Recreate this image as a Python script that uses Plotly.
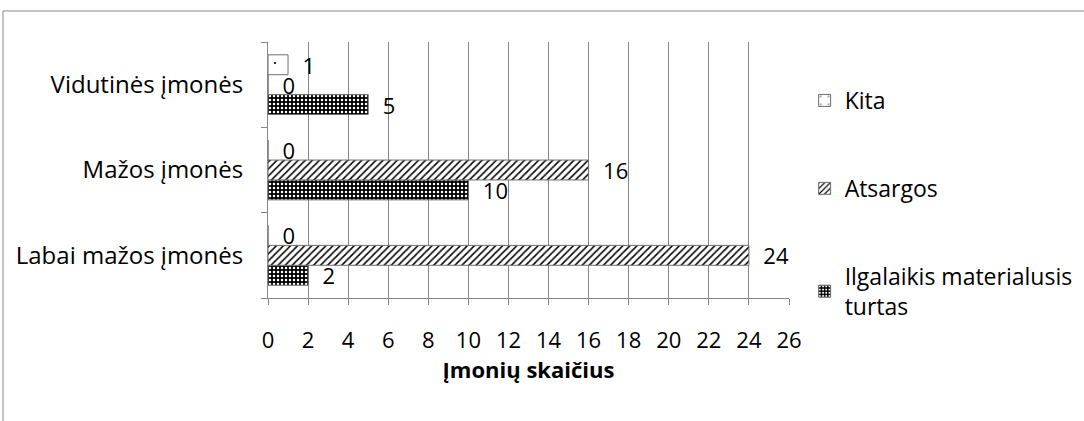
import plotly.graph_objects as go

categories = ["Labai mažos įmonės", "Mažos įmonės", "Vidutinės įmonės"]
series_names = ["Ilgalaikis materialusis<br>turtas", "Atsargos", "Kita"]
ilgalaikis = [2, 10, 5]
atsargos = [24, 16, 0]
kita = [0, 0, 1]
x_ticks = list(range(0, 27, 2))

FONT = "Open Sans"
FS = 22
GRID = "#878787"
OUTLINE = "#6f6f6f"

patterns = [
    dict(shape=".", fgcolor="white", bgcolor="black", size=4, solidity=0.3, fillmode="replace"),
    dict(shape="/", fgcolor="black", bgcolor="white", size=5, solidity=0.3, fillmode="replace"),
    dict(shape=".", fgcolor="black", bgcolor="white", size=14, solidity=0.02, fillmode="replace"),
]

fig = go.Figure()
for i, (name, vals, pat, grp) in enumerate(zip(series_names, [ilgalaikis, atsargos, kita], patterns, ["a", "b", "c"])):
    fig.add_trace(go.Bar(
        y=categories, x=vals, name=name, orientation="h",
        marker=dict(color="white", pattern=pat, line=dict(color=OUTLINE, width=1)),
        text=vals, texttemplate="\u00a0\u00a0%{x}", textposition="outside",
        textfont=dict(family=FONT, size=FS, color="black"),
        constraintext="none", cliponaxis=False, legendgroup=grp, legendrank=3 - i,
    ))

fig.update_layout(
    width=1084, height=421,
    margin=dict(l=268, r=295, t=42, b=123, autoexpand=False),
    paper_bgcolor="white", plot_bgcolor="white",
    barmode="group", bargap=0.3, bargroupgap=0,
    font=dict(family=FONT, size=FS, color="black"),
    showlegend=True,
    legend=dict(x=1.03, xanchor="left", y=(298 - 79) / 256, yanchor="top",
                traceorder="grouped", tracegroupgap=55,
                font=dict(family=FONT, size=23, color="black"),
                bgcolor="rgba(0,0,0,0)"),
    xaxis=dict(range=[0, 26], tickvals=x_ticks, showgrid=True, gridcolor=GRID, gridwidth=1,
               showline=True, linecolor=GRID, linewidth=1, ticks="outside", ticklen=6,
               tickcolor=GRID, ticklabelstandoff=17, zeroline=False, automargin=False,
               tickfont=dict(family=FONT, size=FS),
               title=dict(text="<b>Įmonių skaičius</b>", font=dict(family=FONT, size=22), standoff=8)),
    yaxis=dict(showline=True, linecolor=GRID, linewidth=1, ticks="outside", ticklen=6,
               tickcolor=GRID, tickson="boundaries", ticklabelstandoff=19, showgrid=False,
               automargin=False, tickfont=dict(family=FONT, size=24)),
    shapes=[dict(type="rect", xref="paper", yref="paper",
                 x0=(3 - 268) / 521, x1=(1095 - 268) / 521,
                 y0=(298 - 440) / 256, y1=(298 - 11) / 256,
                 line=dict(color="#8a8a8a", width=1), fillcolor="rgba(0,0,0,0)", layer="below")],
)

fig.write_html("out.html", config={"displayModeBar": False},
               post_script="document.body.style.margin='0';")
